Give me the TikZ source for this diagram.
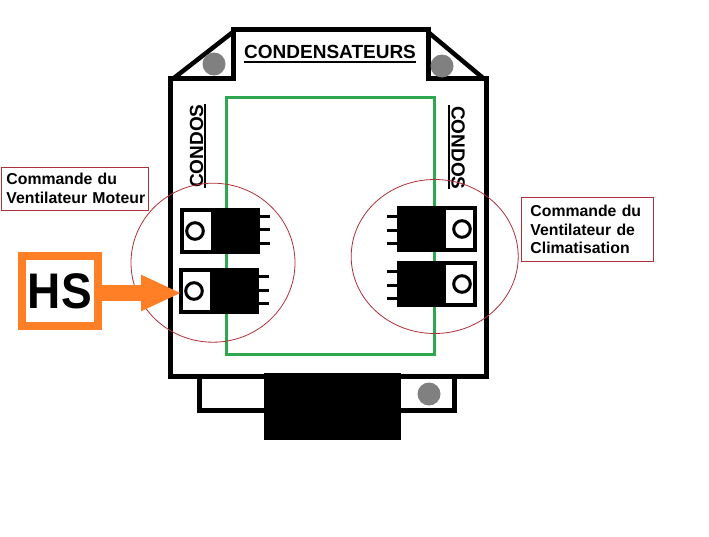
\documentclass[tikz,border=0pt]{standalone}
\usepackage{fontspec}
\setmainfont{Liberation Sans}
\usetikzlibrary{arrows.meta}
\definecolor{boardgreen}{HTML}{2DA850}
\definecolor{ringred}{HTML}{B0303A}
\definecolor{hsorange}{HTML}{FF7F27}
\definecolor{screwgrey}{HTML}{808080}
\tikzset{
  boardline/.style={draw=black,line width=5pt,miter limit=10},
  screw/.style={circle,fill=screwgrey,inner sep=0pt,minimum size=#1},
  ring/.style={draw=ringred,line width=0.8pt},
  notebox/.style={draw=ringred,line width=0.9pt,anchor=north west,inner sep=0pt,align=left,font=\fontsize{15.8}{18.8}\selectfont\bfseries},
  title/.style={inner sep=0pt,font=\fontsize{19}{21}\selectfont\bfseries},
  pics/transistor/.style n args={3}{code={
    \fill[white] (0,0) rectangle (80,46);
    \fill[black] (31,0) rectangle (80,46);
    \draw[black,line width=4pt] (2,2) rectangle (78,44);
    \draw[black,line width=3pt] (15,23) circle[radius=8.3pt];
    \foreach \py in {#1,#2,#3} \draw[black,line width=3pt] (80,\py) -- (90,\py);
  }}
}
\begin{document}
\begin{tikzpicture}[x=1pt,y=-1pt]
\useasboundingbox (0,0) rectangle (709,536);
\fill[white] (0,0) rectangle (709,536);
% lower tab and connector
\draw[boardline] (199.5,376) -- (199.5,410.5) -- (454.5,410.5) -- (454.5,376);
% board outline
\draw[boardline] (170.5,78.5) -- (233.5,78.5) -- (233.5,29.5) -- (428,29.5) -- (428,78.5)
  -- (486.5,78.5) -- (486.5,376.5) -- (170.5,376.5) -- cycle;
\draw[black,line width=4.5pt] (174,78) -- (233,32);
\draw[black,line width=4.5pt] (428,32) -- (483,78);
\fill[black] (264,373) rectangle (401,440);
\node[screw=23pt] (s1) at (214,64) {};
\node[screw=23pt] (s2) at (442,66) {};
\node[screw=23pt] (s3) at (429,394) {};
% green track
\draw[boardgreen,line width=3pt] (226.5,97.5) rectangle (434,354.5);
% titles
\node[title,anchor=base west] (cond) at (244,58) {CONDENSATEURS};
\draw[black,line width=2pt] (244,61.7) -- (cond.base east |- 0,61.7);
\node[title,anchor=base west,rotate=90] (cl) at (203,188) {CONDOS};
\draw[black,line width=1.6pt] (205,104) -- (205,188);
\node[title,anchor=base west,rotate=-90] (cr) at (451.7,106) {CONDOS};
\draw[black,line width=1.6pt] (448.8,105) -- (448.8,189);
% rings
\draw[ring] (213,262.7) ellipse[x radius=82,y radius=79.5];
\draw[ring] (434.7,256.5) ellipse[x radius=83.5,y radius=77];
% transistors
\pic at (180,208) {transistor={8.5}{21}{35}};
\pic at (179,268) {transistor={8}{22}{35}};
\pic[xscale=-1] at (477,206) {transistor={10}{24}{37}};
\pic[xscale=-1] at (477,261) {transistor={10}{24}{37}};
% notes
\node[notebox,minimum width=147pt,minimum height=43pt,text width=147pt] (n1) at (1,166.5) {\hspace*{5pt}Commande du\\\hspace*{5pt}Ventilateur Moteur};
\node[notebox,minimum width=131.5pt,minimum height=64pt,text width=131.5pt] (n2) at (521,197) {\hspace*{9pt}Commande du\\\hspace*{9pt}Ventilateur de\\\hspace*{9pt}Climatisation};
% HS flag and arrow
\node[draw=hsorange,fill=white,line width=8pt,minimum width=75.7pt,minimum height=70pt,inner sep=0pt,font=\fontsize{50}{52}\selectfont\bfseries] (hs) at (59.8,291) {\scalebox{0.92}[1]{HS}};
\coordinate (tip) at (181.7,293);
\draw[hsorange,line width=16.7pt,-{Triangle[length=40.7pt,width=33.3pt]}] (hs.east |- tip) -- (tip);
\end{tikzpicture}
\end{document}
